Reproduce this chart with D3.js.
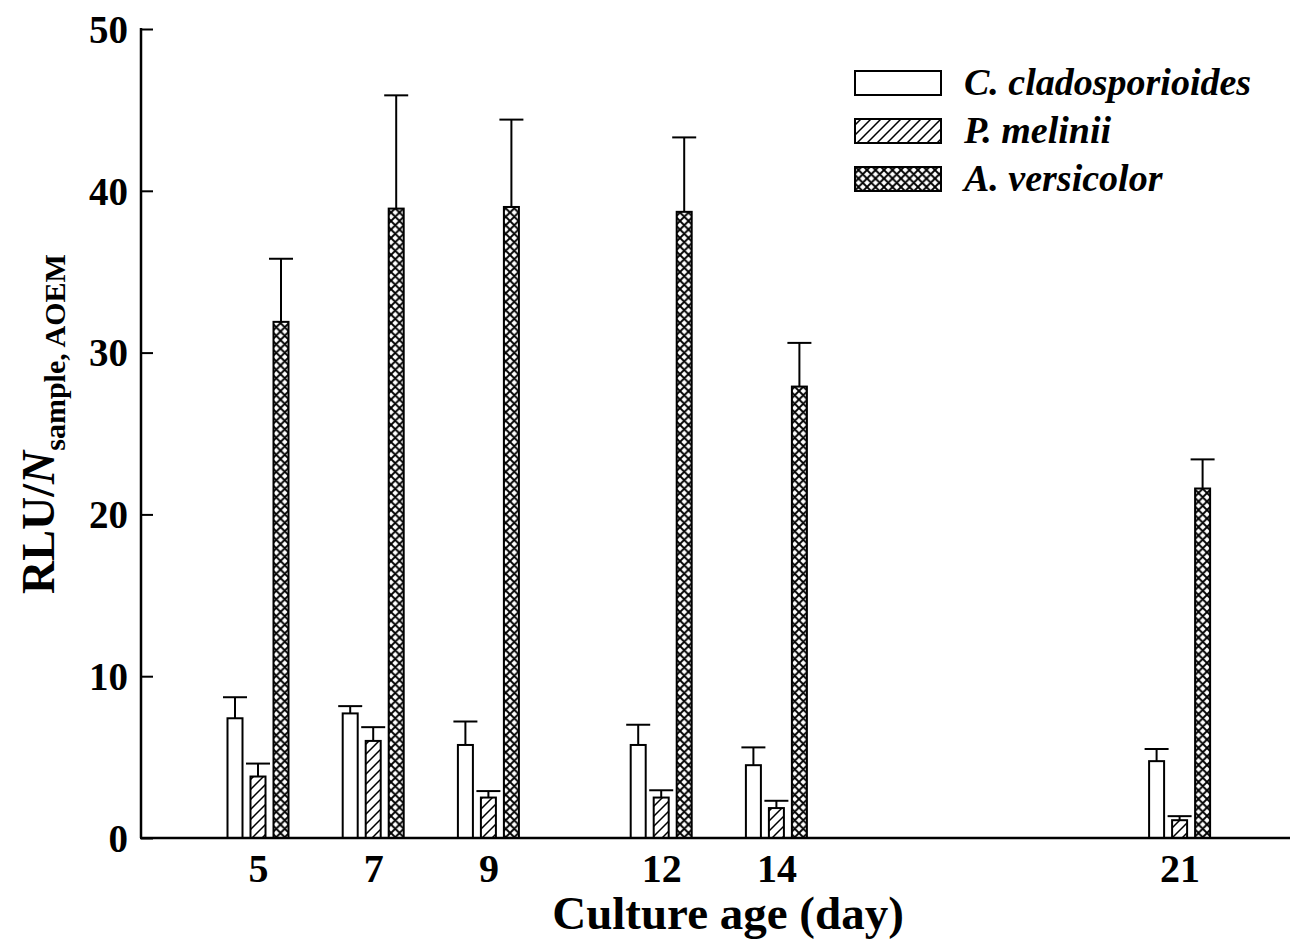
<!DOCTYPE html>
<html>
<head>
<meta charset="utf-8">
<script src="https://cdn.jsdelivr.net/npm/d3@7"></script>
<style>
  body { margin: 0; background: #fff; }
  svg text { font-family: "Liberation Serif", "Times New Roman", serif; font-weight: bold; }
</style>
</head>
<body>
<svg id="chart" width="1293" height="942"></svg>
<script>
// culture days and species
const days = [5, 7, 9, 12, 14, 21]
const species = ['C. cladosporioides', 'P. melinii', 'A. versicolor']

// mean values per species (same order as days)
const cClado = [7.4, 7.7, 5.75, 5.75, 4.5, 4.75]
const pMelinii = [3.8, 6.0, 2.5, 2.5, 1.85, 1.1]
const aVersicolor = [31.9, 38.9, 39.0, 38.7, 27.9, 21.6]

// top of error bars
const cCladoErr = [8.7, 8.15, 7.2, 7.0, 5.6, 5.5]
const pMeliniiErr = [4.6, 6.85, 2.9, 2.95, 2.3, 1.35]
const aVersicolorErr = [35.8, 45.9, 44.4, 43.3, 30.6, 23.4]

const yTicks = [0, 10, 20, 30, 40, 50]

const means = [cClado, pMelinii, aVersicolor]
const errs = [cCladoErr, pMeliniiErr, aVersicolorErr]

const svg = d3.select('#chart')

// Patterns
const defs = svg.append('defs')
defs.append('pattern')
    .attr('id', 'hatch')
    .attr('patternUnits', 'userSpaceOnUse')
    .attr('width', 10).attr('height', 10)
    .append('path')
    .attr('d', 'M-1,1 L1,-1 M0,10 L10,0 M9,11 L11,9')
    .attr('stroke', '#000')
    .attr('stroke-width', 1.5)

let cross = defs.append('pattern')
    .attr('id', 'cross')
    .attr('patternUnits', 'userSpaceOnUse')
    .attr('width', 8.5).attr('height', 8.5)
cross.append('rect').attr('width', 8.5).attr('height', 8.5).attr('fill', '#fff')
cross.append('path')
    .attr('d', 'M-1,1 L1,-1 M0,8.5 L8.5,0 M7.5,9.5 L9.5,7.5 M-1,7.5 L1,9.5 M0,0 L8.5,8.5 M7.5,-1 L9.5,1')
    .attr('stroke', '#000')
    .attr('stroke-width', 1.9)

const fills = ['#fff', 'url(#hatch)', 'url(#cross)']

// Scales
const x = d3.scaleLinear().domain([3, 23]).range([142.8, 1294.8])
const y = d3.scaleLinear().domain([0, 50]).range([838, 29])

const barW = 15
const barStep = 23

// Bars and error bars
species.forEach((s, k) => {
    let g = svg.append('g')
    let offset = (k - 1) * barStep
    let rows = days.map((d, i) => ({ day: d, v: means[k][i], e: errs[k][i] }))

    // error lines
    g.selectAll('.err')
        .data(rows)
        .join('line')
        .attr('x1', d => x(d.day) + offset)
        .attr('x2', d => x(d.day) + offset)
        .attr('y1', d => y(d.v))
        .attr('y2', d => y(d.e))
        .attr('stroke', '#000')
        .attr('stroke-width', 2)

    g.selectAll('.cap')
        .data(rows)
        .join('line')
        .attr('x1', d => x(d.day) + offset - 12)
        .attr('x2', d => x(d.day) + offset + 12)
        .attr('y1', d => y(d.e))
        .attr('y2', d => y(d.e))
        .attr('stroke', '#000')
        .attr('stroke-width', 2)

    g.selectAll('rect')
        .data(rows)
        .join('rect')
        .attr('x', d => x(d.day) + offset - barW / 2)
        .attr('width', barW)
        .attr('y', d => y(d.v))
        .attr('height', d => y(0) - y(d.v))
        .attr('fill', fills[k])
        .attr('stroke', '#000')
        .attr('stroke-width', 2)
})

// Y axis
let yAxis = svg.append('g')
    .attr('transform', 'translate(141,0)')
    .call(d3.axisRight(y).tickValues(yTicks).tickSize(12).tickFormat(d3.format('d')))
yAxis.select('.domain').remove()
yAxis.selectAll('.tick line').attr('stroke-width', 2)
yAxis.selectAll('.tick text')
    .attr('x', -13)
    .attr('text-anchor', 'end')
    .attr('dy', '0.34em')
    .style('font-size', '39px')

svg.append('line')
    .attr('x1', 141).attr('x2', 141)
    .attr('y1', y(50) - 1).attr('y2', y(0))
    .attr('stroke', '#000').attr('stroke-width', 2.5)

// X axis
let xAxis = svg.append('g')
    .attr('transform', 'translate(0,838)')
    .call(d3.axisBottom(x).tickValues(days).tickSize(0).tickFormat(d3.format('d')))
xAxis.select('.domain').remove()
xAxis.selectAll('.tick text')
    .attr('y', 44)
    .attr('dy', 0)
    .style('font-size', '40px')

svg.append('line')
    .attr('x1', 140).attr('x2', 1290)
    .attr('y1', 838).attr('y2', 838)
    .attr('stroke', '#000').attr('stroke-width', 2.5)

// Axis titles
svg.append('text')
    .attr('x', 728).attr('y', 929)
    .attr('text-anchor', 'middle')
    .style('font-size', '47px')
    .text('Culture age (day)')

let yTitle = svg.append('text')
    .attr('transform', 'translate(54,424) rotate(-90)')
    .attr('text-anchor', 'middle')
    .style('font-size', '46px')
yTitle.append('tspan').text('RLU/')
yTitle.append('tspan').style('font-style', 'italic').text('N')
yTitle.append('tspan').attr('dy', 11).style('font-size', '30px').text('sample, AOEM')

// Legend
let legend = svg.append('g')
species.forEach((s, k) => {
    let ly = 71 + k * 48
    legend.append('rect')
        .attr('x', 855).attr('y', ly)
        .attr('width', 86).attr('height', 24)
        .attr('fill', fills[k])
        .attr('stroke', '#000')
        .attr('stroke-width', 2)
    legend.append('text')
        .attr('x', 964).attr('y', ly + 24)
        .style('font-size', '38px')
        .style('font-style', 'italic')
        .text(s)
})
</script>
</body>
</html>
